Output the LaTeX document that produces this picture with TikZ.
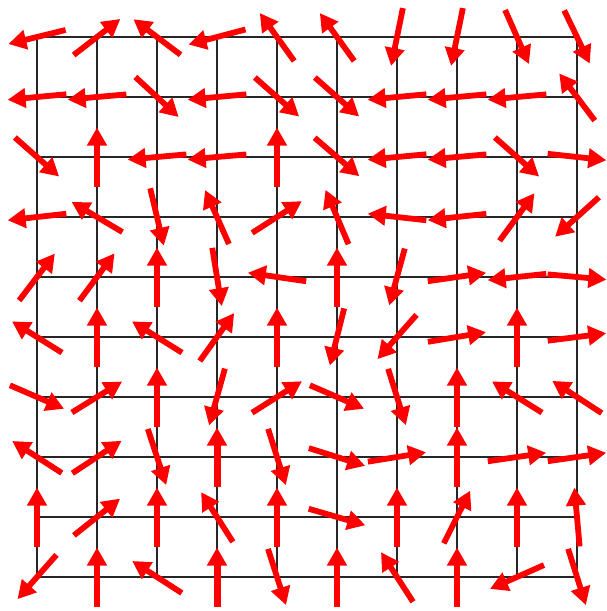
\documentclass[tikz,border=0pt]{standalone}
\usetikzlibrary{arrows.meta}
\tikzset{
  gridline/.style={line width=1.4pt, draw=black!85},
  vec/.style={draw=red, line width=5.8pt, -{Triangle[length=18pt,width=19pt]}}
}
\begin{document}
\begin{tikzpicture}[x=1pt,y=-1pt]
\useasboundingbox (0,0) rectangle (606,611);
\foreach \i in {0,...,9} {
  \draw[gridline] ({37+60*\i},37) -- ({37+60*\i},577);
  \draw[gridline] (37,{37+60*\i}) -- (577,{37+60*\i});
}
\foreach \c/\r/\dx/\dy/\w in {
 0/0/-53/13/5.8,1/0/44/-34/5.8,2/0/-45/-34/5.8,3/0/-53/14/5.8,4/0/-33/-46/5.8,5/0/-33/-46/5.8,6/0/-11/54/5.8,7/0/-11/54/5.8,8/0/23/52/5.8,9/0/25/52/5.8,
 0/1/-53/5/5.8,1/1/-56/5/5.8,2/1/40/37/5.8,3/1/-55/5/5.8,4/1/42/37/5.8,5/1/42/37/5.8,6/1/-54/5/5.8,7/1/-55/5/5.8,8/1/-55/5/5.8,9/1/-34/-45/5.8,
 0/2/42/37/5.8,1/2/0/-1/5.8,2/2/-56/5/5.8,3/2/-57/5/5.8,4/2/0/-1/5.8,5/2/43/37/5.8,6/2/-54/5/5.8,7/2/-56/5/5.8,8/2/43/38/5.8,9/2/55/6/5.8,
 0/3/-54/6/5.8,1/3/-49/-29/5.8,2/3/13/55/5.8,3/3/-23/-52/5.8,4/3/47/-30/5.8,5/3/-22/-52/5.8,6/3/-54/-6/5.8,7/3/-56/6/5.8,8/3/33/-45/5.8,9/3/-40/36/5.8,
 0/4/35/-46/5.8,1/4/34/-46/5.8,2/4/0/-1/5.8,3/4/9/55/5.8,4/4/-55/-8/5.8,5/4/0/-1/5.8,6/4/-15/55/5.8,7/4/56/-8/5.8,8/4/-56/6/5.8,9/4/56/5/5.8,
 0/5/-48/-30/5.8,1/5/0/-1/5.8,2/5/-48/-30/5.8,3/5/33/-46/5.8,4/5/0/-1/5.8,5/5/-13/52/5.8,6/5/-37/42/5.8,7/5/54/-9/5.8,8/5/0/-1/5.8,9/5/55/-7/5.8,
 0/6/53/23/5.8,1/6/47/-29/5.8,2/6/0/-1/5.8,3/6/-15/54/5.8,4/6/46/-29/5.8,5/6/53/23/5.8,6/6/17/54/5.8,7/6/0/-1/5.8,8/6/-48/-30/5.8,9/6/-46/-30/5.8,
 0/7/-48/-31/5.8,1/7/47/-31/5.8,2/7/18/55/5.8,3/7/0/-1/7,4/7/17/54/5.8,5/7/54/17/5.8,6/7/56/-9/5.8,7/7/0/-1/5.8,8/7/55/-8/5.8,9/7/56/-8/5.8,
 0/8/0/-1/5.8,1/8/44/-35/5.8,2/8/0/-1/5.8,3/8/-30/-47/5.8,4/8/0/-1/5.8,5/8/55/16/5.8,6/8/0/-1/5.8,7/8/26/-52/5.8,8/8/0/-1/5.8,9/8/-5/-56/5.8,
 0/9/-37/42/5.8,1/9/0/-1/6.5,2/9/-48/-31/5.8,3/9/0/-1/7,4/9/17/53/5.8,5/9/0/-1/6.5,6/9/-31/-48/5.8,7/9/0/-1/6.5,8/9/-52/23/5.8,9/9/17/54/5.8} {
  \pgfmathsetmacro{\len}{veclen(\dx,\dy)}
  \pgfmathsetmacro{\ux}{29.5*\dx/\len}
  \pgfmathsetmacro{\uy}{29.5*\dy/\len}
  \draw[vec, line width=\w pt] ({37+60*\c-\ux},{37+60*\r-\uy}) -- ({37+60*\c+\ux},{37+60*\r+\uy});
}
\end{tikzpicture}
\end{document}
